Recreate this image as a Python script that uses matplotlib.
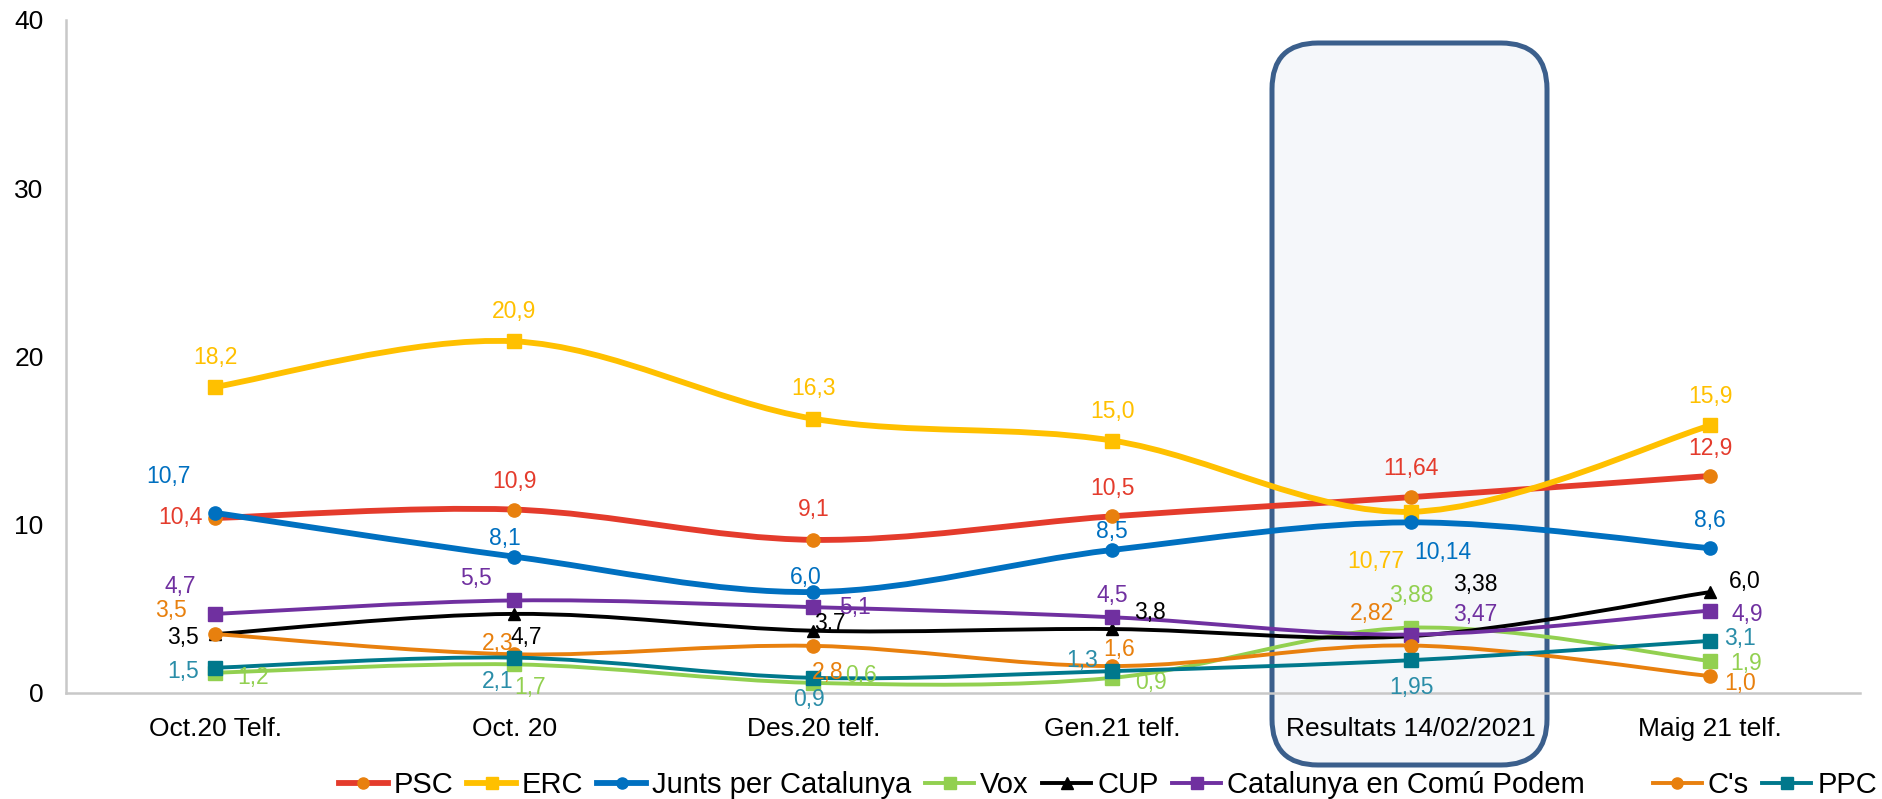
import matplotlib.pyplot as plt
import numpy as np
from matplotlib.path import Path
from matplotlib.patches import PathPatch, FancyBboxPatch
from matplotlib.lines import Line2D

plt.rcParams['font.family'] = ['Liberation Sans', 'DejaVu Sans']

# data
categories = ["Oct.20 Telf.", "Oct. 20", "Des.20 telf.", "Gen.21 telf.",
              "Resultats 14/02/2021", "Maig 21 telf."]
series_names = ["PSC", "ERC", "Junts per Catalunya", "Vox", "CUP",
                "Catalunya en Comú Podem", "C's", "PPC"]
psc = [10.4, 10.9, 9.1, 10.5, 11.64, 12.9]
erc = [18.2, 20.9, 16.3, 15.0, 10.77, 15.9]
junts = [10.7, 8.1, 6.0, 8.5, 10.14, 8.6]
vox = [1.2, 1.7, 0.6, 0.9, 3.88, 1.9]
cup = [3.5, 4.7, 3.7, 3.8, 3.38, 6.0]
comu = [4.7, 5.5, 5.1, 4.5, 3.47, 4.9]
cs = [3.5, 2.3, 2.8, 1.6, 2.82, 1.0]
ppc = [1.5, 2.1, 0.9, 1.3, 1.95, 3.1]
label_texts = {
    "PSC": ["10,4", "10,9", "9,1", "10,5", "11,64", "12,9"],
    "ERC": ["18,2", "20,9", "16,3", "15,0", "10,77", "15,9"],
    "Junts per Catalunya": ["10,7", "8,1", "6,0", "8,5", "10,14", "8,6"],
    "Vox": ["1,2", "1,7", "0,6", "0,9", "3,88", "1,9"],
    "CUP": ["3,5", "4,7", "3,7", "3,8", "3,38", "6,0"],
    "Catalunya en Comú Podem": ["4,7", "5,5", "5,1", "4,5", "3,47", "4,9"],
    "C's": ["3,5", "2,3", "2,8", "1,6", "2,82", "1,0"],
    "PPC": ["1,5", "2,1", "0,9", "1,3", "1,95", "3,1"],
}
values = [psc, erc, junts, vox, cup, comu, cs, ppc]

# styles: line colour, marker, marker colour, line width, label colour
styles = {
    "PSC": ("#E43B2C", "o", "#E8800E", 4.2, "#E43B2C"),
    "ERC": ("#FFC000", "s", "#FFC000", 4.2, "#FFC000"),
    "Junts per Catalunya": ("#0070C0", "o", "#0070C0", 4.2, "#0070C0"),
    "Vox": ("#92D050", "s", "#92D050", 2.8, "#92D050"),
    "CUP": ("#000000", "^", "#000000", 2.8, "#000000"),
    "Catalunya en Comú Podem": ("#7030A0", "s", "#7030A0", 2.8, "#7030A0"),
    "C's": ("#E8800E", "o", "#E8800E", 2.8, "#E8800E"),
    "PPC": ("#00788C", "s", "#00788C", 2.8, "#2A8DA8"),
}
# label offsets (px in the reduced picture), per point
offsets = {
    "PSC": [(-29, 0), (0, -23), (0, -25), (0, -23), (0, -24), (0, -23)],
    "ERC": [(0, -24), (0, -25), (0, -25), (0, -24), (-30, 41), (0, -24)],
    "Junts per Catalunya": [(-39, -30), (-8, -15), (-6, -12), (0, -15), (26, 25), (0, -23)],
    "Vox": [(31, 4), (13, 19), (40, -6), (32, 4), (0, -27), (30, 2)],
    "CUP": [(-27, 3), (10, 20), (14, -6), (31, -14), (53, -43), (29, -9)],
    "Catalunya en Comú Podem": [(-29, -23), (-32, -18), (35, 0), (0, -18), (53, -17), (31, 3)],
    "C's": [(-37, -20), (-14, -9), (12, 22), (6, -14), (-33, -27), (25, 6)],
    "PPC": [(-27, 3), (-14, 20), (-4, 18), (-25, -9), (0, 23), (25, -2)],
}
px_to_pt = 1883 / 1568 / 100 * 72


def smooth_path(xs, ys):
    # cubic bezier through the points (Catmull-Rom style, like Excel smoothing)
    pts = np.column_stack([xs, ys]).astype(float)
    n = len(pts)
    verts = [pts[0]]
    codes = [Path.MOVETO]
    for i in range(n - 1):
        p_prev = pts[max(i - 1, 0)]
        p0 = pts[i]
        p1 = pts[i + 1]
        p_next = pts[min(i + 2, n - 1)]
        c1 = p0 + (p1 - p_prev) / 6
        c2 = p1 - (p_next - p0) / 6
        verts += [c1, c2, p1]
        codes += [Path.CURVE4] * 3
    return Path(verts, codes)


fig = plt.figure(figsize=(18.83, 7.99), dpi=100)
ax = fig.add_axes([0.035, 0.1327, 0.9527, 0.8423])
ax.patch.set_alpha(0)

# highlight box around the election result
box = FancyBboxPatch((12.72, 0.34), 2.75, 7.22,
                     boxstyle="round,pad=0,rounding_size=0.46",
                     transform=fig.dpi_scale_trans, facecolor="#F5F7FA",
                     edgecolor="#3B5F8C", linewidth=3.6, zorder=-5)
fig.patches.append(box)

x = np.arange(len(categories))
for k, (name, vals) in enumerate(zip(series_names, values)):
    lc, mk, mc, lw, tc = styles[name]
    patch = PathPatch(smooth_path(x, vals), facecolor="none", edgecolor=lc,
                      linewidth=lw, capstyle="round", joinstyle="round",
                      zorder=2 + k)
    ax.add_patch(patch)
    ms = 9.5 if mk == "o" else (10 if mk == "s" else 8.5)
    ax.plot(x, vals, linestyle="none", marker=mk, markersize=ms,
            markerfacecolor=mc, markeredgecolor=mc, zorder=2.5 + k)
    for i, v in enumerate(vals):
        dx, dy = offsets[name][i]
        ax.annotate(label_texts[name][i], (x[i], v),
                    xytext=(dx * px_to_pt, -dy * px_to_pt),
                    textcoords="offset points", ha="center", va="center",
                    color=tc, fontsize=16.5, zorder=20)

ax.set_xlim(-0.5, 5.5)
ax.set_ylim(0, 40)
ax.set_yticks([0, 10, 20, 30, 40])
ax.set_xticks(x)
ax.set_xticklabels(categories)
ax.tick_params(axis="both", length=0, labelsize=19)
ax.tick_params(axis="x", pad=17)
ax.tick_params(axis="y", pad=16)
for s in ["top", "right"]:
    ax.spines[s].set_visible(False)
for s in ["left", "bottom"]:
    ax.spines[s].set_color("#C8C8C8")
    ax.spines[s].set_linewidth(1.8)

# legend
handles = []
for name in series_names:
    lc, mk, mc, lw, tc = styles[name]
    handles.append(Line2D([], [], color=lc, linewidth=lw, marker=mk,
                          markersize=8, markerfacecolor=mc, markeredgecolor=mc))
leg_kw = dict(frameon=False, fontsize=21, handlelength=1.68, handletextpad=0.2,
              columnspacing=0.47, borderpad=0, borderaxespad=0)
leg_y = 1 - 785 / 799
leg1 = fig.legend(handles[:6], series_names[:6], loc="center left",
                  bbox_to_anchor=(339 / 1883, leg_y), ncol=6, **leg_kw)
leg2 = fig.legend(handles[6:], series_names[6:], loc="center right",
                  bbox_to_anchor=(1877 / 1883, leg_y), ncol=2, **leg_kw)

fig.savefig("out.png", dpi=100)
